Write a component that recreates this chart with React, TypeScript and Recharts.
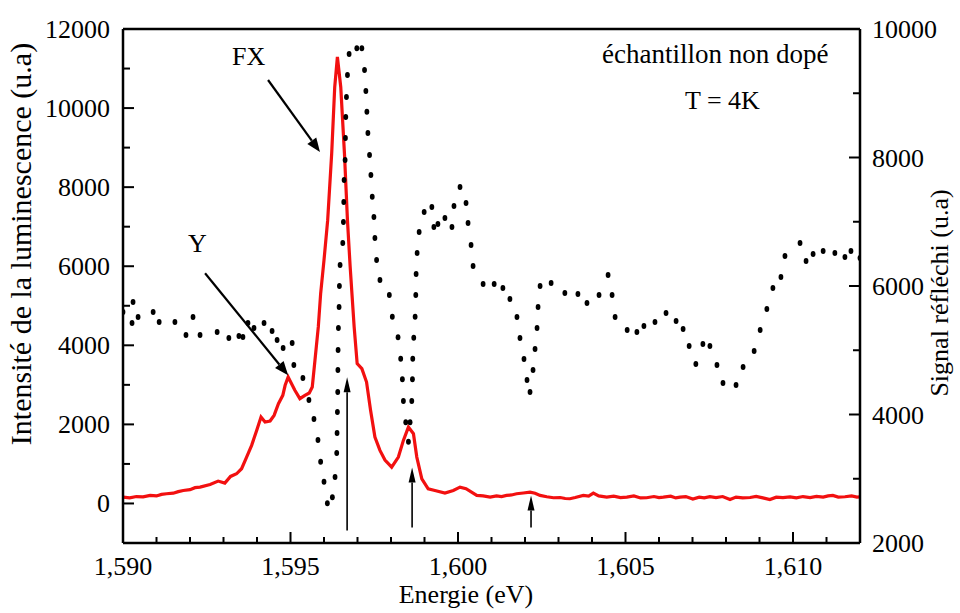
import React from 'react';
import { ComposedChart, Line, XAxis, YAxis, ReferenceLine } from 'recharts';

const FONT = '"Liberation Serif", "Times New Roman", Times, serif';

// Luminescence (left axis, red solid line)
const plEnergy = [
  1.59, 1.5902, 1.5904, 1.5906, 1.59081, 1.591, 1.59115, 1.5913, 1.5915, 1.59165,
  1.5918, 1.592, 1.59215, 1.5923, 1.5926, 1.59284, 1.59304, 1.59321, 1.59339,
  1.59354, 1.59369, 1.59384, 1.59399, 1.59412, 1.59424, 1.59439, 1.59451, 1.59464, 1.59477,
  1.59484, 1.59493, 1.59513, 1.59528, 1.59543, 1.59556, 1.59565, 1.59573, 1.59583, 1.5959,
  1.596, 1.59611, 1.59623, 1.59632, 1.5964, 1.5965, 1.59661, 1.5967, 1.59678, 1.5969,
  1.59699, 1.59713, 1.59727, 1.59739, 1.59752, 1.59767, 1.59782, 1.59802, 1.59822, 1.59837,
  1.59852, 1.59867, 1.59877, 1.59892, 1.59911, 1.59931, 1.59961, 1.59986, 1.60006, 1.60024,
  1.60056, 1.60075, 1.60096, 1.60115, 1.6013, 1.60145, 1.6016, 1.60175, 1.60195, 1.60215,
  1.6023, 1.60245, 1.60265, 1.60285, 1.60305, 1.6032, 1.60334, 1.6035, 1.60374, 1.6039,
  1.60404, 1.6042, 1.60444, 1.60465, 1.60485, 1.60504, 1.60525, 1.60545, 1.60563, 1.60585,
  1.606, 1.60613, 1.60635, 1.6065, 1.60663, 1.6068, 1.60701, 1.6072, 1.60735, 1.60752,
  1.6077, 1.6079, 1.60812, 1.6083, 1.6085, 1.60872, 1.6089, 1.6091, 1.60931, 1.6095,
  1.6097, 1.60991, 1.6101, 1.6103, 1.61051, 1.6107, 1.6109, 1.61105, 1.61119, 1.61135,
  1.61155, 1.61175, 1.61191, 1.612,
];
const plIntensity = [
  160, 140, 175, 165, 203, 190, 230, 245, 260, 300,
  329, 350, 400, 413, 481, 566, 515, 684, 751,
  878, 1173, 1469, 1848, 2186, 2059, 2085, 2228, 2524, 2735,
  2988, 3198, 2861, 2651, 2735, 2793, 2945, 3621, 4464, 5310,
  6153, 7166, 8862, 10533, 11293, 10533, 8862, 7166, 6000, 4464,
  3537, 3410, 3071, 2355, 1679, 1342, 1100, 919, 1173, 1595,
  1932, 1765, 1173, 625, 372, 329, 261, 329, 413, 372,
  203, 190, 160, 190, 175, 203, 215, 245, 265, 287,
  260, 203, 170, 144, 150, 125, 119, 150, 203, 185,
  261, 190, 160, 185, 150, 160, 190, 140, 144, 175,
  150, 160, 185, 140, 160, 175, 110, 160, 140, 170,
  150, 175, 100, 160, 140, 150, 180, 140, 100, 160,
  150, 165, 140, 175, 150, 180, 160, 190, 203, 160,
  170, 190, 160, 165,
];

// Signal réfléchi (right axis, black dotted)
const reflEnergy = [
  1.59, 1.59027, 1.5903, 1.59045, 1.5909, 1.59108, 1.59155, 1.59188, 1.59209, 1.5923,
  1.59281, 1.59316, 1.59346, 1.59358, 1.59373, 1.59391, 1.59421, 1.59445, 1.5946, 1.59478,
  1.59505, 1.5951, 1.59537, 1.59555, 1.5957, 1.59582, 1.5959, 1.596, 1.5961, 1.59625,
  1.59633, 1.59638, 1.59639, 1.5964, 1.59641, 1.596415, 1.59642, 1.59643, 1.59645, 1.59646,
  1.59648, 1.59656, 1.59658, 1.59659, 1.5966, 1.59663, 1.59664, 1.59665, 1.59667, 1.5967,
  1.59675, 1.59698, 1.59713, 1.59721, 1.59725, 1.59728, 1.59731, 1.59736, 1.5974, 1.59744,
  1.59749, 1.59752, 1.59757, 1.59767, 1.59795, 1.59804, 1.59821, 1.59829, 1.59834, 1.59837,
  1.59844, 1.59852, 1.59857, 1.59862, 1.59864, 1.59865, 1.59868, 1.59872, 1.59874, 1.59875,
  1.59878, 1.59884, 1.59899, 1.59922, 1.59928, 1.5994, 1.59961, 1.59982, 1.59988, 1.60006,
  1.60024, 1.6003, 1.60039, 1.60045, 1.60075, 1.60108, 1.60134, 1.60155, 1.60176, 1.60185,
  1.60197, 1.60206, 1.60215, 1.60224, 1.6023, 1.60236, 1.60239, 1.60245, 1.60278, 1.60319,
  1.60358, 1.60385, 1.60421, 1.60448, 1.6046, 1.60469, 1.60505, 1.60534, 1.60555, 1.60588,
  1.60621, 1.60651, 1.60672, 1.6069, 1.6071, 1.60731, 1.60752, 1.60773, 1.60791, 1.6083,
  1.60851, 1.60884, 1.60902, 1.60922, 1.6094, 1.60964, 1.60976, 1.61021, 1.61039, 1.6106,
  1.6109, 1.61125, 1.61155, 1.61173, 1.612,
];
const reflSignal = [
  5595, 5424, 5751, 5517, 5595, 5440, 5440, 5237, 5517, 5237,
  5284, 5191, 5222, 5206, 5424, 5346, 5424, 5300, 5160, 5035,
  5113, 4770, 4568, 4226, 3930, 3603, 3265, 2954, 2618, 2711,
  3027, 3401, 3712, 4039, 4350, 4693, 5004, 5346, 5673, 6000,
  6327, 6669, 6996, 7307, 7650, 7961, 8303, 8630, 8941, 9284,
  9611, 9699, 9699, 9362, 9035, 8714, 8381, 8039, 7728, 7390,
  7074, 6747, 6405, 6093, 5860, 5522, 5201, 4869, 4547, 4210,
  3878, 3577, 3878, 4210, 4547, 4869, 5196, 5522, 5860, 6187,
  6514, 6840, 7152, 7230, 6918, 6965, 7058, 6918, 7245, 7541,
  7292, 6980, 6638, 6311, 6031, 6031, 5969, 5798, 5517, 5191,
  4864, 4537, 4350, 4693, 5019, 5346, 5673, 6000, 6047, 5891,
  5875, 5735, 5860, 6171, 5860, 5517, 5315, 5284, 5377, 5440,
  5580, 5455, 5331, 5066, 4786, 5097, 5066, 4770, 4490, 4459,
  4739, 4988, 5315, 5642, 5969, 6140, 6467, 6669, 6389, 6498,
  6545, 6514, 6451, 6545, 6436,
];

const xTicks = [
  1.59, 1.591, 1.592, 1.593, 1.594, 1.595, 1.596, 1.597, 1.598, 1.599, 1.6, 1.601,
  1.602, 1.603, 1.604, 1.605, 1.606, 1.607, 1.608, 1.609, 1.61, 1.611, 1.612,
];
const leftTicks = [0, 1000, 2000, 3000, 4000, 5000, 6000, 7000, 8000, 9000, 10000, 11000, 12000];
const rightTicks = [2000, 3000, 4000, 5000, 6000, 7000, 8000, 9000, 10000];

// annotation arrows, in data units of the left axis
const arrows = [
  { x1: 1.59433, y1: 10710, x2: 1.59588, y2: 8887, big: true },
  { x1: 1.59245, y1: 5824, x2: 1.59493, y2: 3241, big: true },
  { x1: 1.59669, y1: -684, x2: 1.59669, y2: 3190, big: false },
  { x1: 1.59863, y1: -608, x2: 1.59863, y2: 912, big: false },
  { x1: 1.60218, y1: -608, x2: 1.60218, y2: 203, big: false },
];

const plData = plEnergy.map((e, i) => ({ e, pl: plIntensity[i] }));
const reflData = reflEnergy.map((e, i) => ({ e, refl: reflSignal[i] }));

const XTick = (props: any) => {
  const { x, y, payload } = props;
  const major = Math.round(payload.value * 1000) % 5 === 0;
  return (
    <g>
      <line x1={x} y1={y} x2={x} y2={y - (major ? 11 : 6)} stroke="#000" strokeWidth={2} />
      {major && (
        <text x={x} y={y + 32} textAnchor="middle" fontSize={26} fontFamily={FONT} fill="#000">
          {payload.value.toFixed(3).replace('.', ',')}
        </text>
      )}
    </g>
  );
};

const LeftTick = (props: any) => {
  const { x, y, payload } = props;
  const major = payload.value % 2000 === 0;
  return (
    <g>
      <line x1={x} y1={y} x2={x + (major ? 11 : 7)} y2={y} stroke="#000" strokeWidth={2} />
      {major && (
        <text x={x - 13} y={y + 9} textAnchor="end" fontSize={26} fontFamily={FONT} fill="#000">
          {payload.value}
        </text>
      )}
    </g>
  );
};

const RightTick = (props: any) => {
  const { x, y, payload } = props;
  const major = payload.value % 2000 === 0;
  return (
    <g>
      <line x1={x} y1={y} x2={x - (major ? 11 : 7)} y2={y} stroke="#000" strokeWidth={2} />
      {major && (
        <text x={x + 12} y={y + 9} textAnchor="start" fontSize={26} fontFamily={FONT} fill="#000">
          {payload.value}
        </text>
      )}
    </g>
  );
};

const Arrow = (props: any) => {
  const { x1, y1, x2, y2, big } = props;
  const headLen = big ? 14 : 15;
  const headHalf = big ? 5.5 : 3.5;
  const dx = x2 - x1;
  const dy = y2 - y1;
  const len = Math.hypot(dx, dy) || 1;
  const ux = dx / len;
  const uy = dy / len;
  const bx = x2 - ux * headLen;
  const by = y2 - uy * headLen;
  const px = -uy;
  const py = ux;
  return (
    <g>
      <line x1={x1} y1={y1} x2={bx} y2={by} stroke="#000" strokeWidth={big ? 2.2 : 1.6} />
      <polygon
        points={`${x2},${y2} ${bx + px * headHalf},${by + py * headHalf} ${bx - px * headHalf},${by - py * headHalf}`}
        fill="#000"
      />
    </g>
  );
};

const App = () => {
  return (
    <div style={{ position: 'absolute', left: 0, top: 0, width: 960, height: 613, background: '#fff' }}>
      <ComposedChart width={960} height={613} margin={{ top: 29, right: 0, bottom: 30, left: 0 }}>
        <XAxis
          dataKey="e"
          type="number"
          domain={[1.59, 1.612]}
          ticks={xTicks}
          interval={0}
          height={40}
          tickLine={false}
          tickSize={0}
          tickMargin={0}
          tick={XTick}
          axisLine={{ stroke: '#000', strokeWidth: 2.5 }}
          allowDataOverflow
        />
        <YAxis
          yAxisId="left"
          type="number"
          domain={[-1000, 12000]}
          ticks={leftTicks}
          interval={0}
          width={123}
          tickLine={false}
          tickSize={0}
          tickMargin={0}
          tick={LeftTick}
          axisLine={{ stroke: '#000', strokeWidth: 2.5 }}
          allowDataOverflow
        />
        <YAxis
          yAxisId="right"
          orientation="right"
          type="number"
          domain={[2000, 10000]}
          ticks={rightTicks}
          interval={0}
          width={100}
          tickLine={false}
          tickSize={0}
          tickMargin={0}
          tick={RightTick}
          axisLine={{ stroke: '#000', strokeWidth: 2.5 }}
          allowDataOverflow
        />
        <ReferenceLine yAxisId="left" y={12000} stroke="#000" strokeWidth={2.5} />
        <Line
          yAxisId="right"
          data={reflData}
          dataKey="refl"
          type="linear"
          stroke="none"
          isAnimationActive={false}
          dot={(p: any) => (
            <ellipse key={`d${p.index}`} cx={p.cx} cy={p.cy} rx={2.4} ry={3} fill="#000" />
          )}
          activeDot={false}
        />
        <Line
          yAxisId="left"
          data={plData}
          dataKey="pl"
          type="linear"
          stroke="#f21010"
          strokeWidth={3.2}
          dot={false}
          activeDot={false}
          isAnimationActive={false}
        />
        {arrows.map((a, i) => (
          <ReferenceLine
            key={`a${i}`}
            yAxisId="left"
            segment={[
              { x: a.x1, y: a.y1 },
              { x: a.x2, y: a.y2 },
            ]}
            shape={(p: any) => <Arrow {...p} big={a.big} />}
          />
        ))}
      </ComposedChart>
      <svg
        width={960}
        height={613}
        style={{ position: 'absolute', left: 0, top: 0, pointerEvents: 'none' }}
        fontFamily={FONT}
        fill="#000"
      >
        <text x={232} y={65} fontSize={26}>FX</text>
        <text x={188} y={252} fontSize={26}>Y</text>
        <text x={602} y={63} fontSize={27}>échantillon non dopé</text>
        <text x={685} y={109} fontSize={26}>T = 4K</text>
        <text x={466} y={603} fontSize={26} textAnchor="middle">Energie (eV)</text>
        <text transform="translate(31,244) rotate(-90)" fontSize={30} textAnchor="middle">
          Intensité de la luminescence (u.a)
        </text>
        <text transform="translate(948,293) rotate(-90)" fontSize={26} textAnchor="middle">
          Signal réfléchi (u.a)
        </text>
      </svg>
    </div>
  );
};

export default App;
